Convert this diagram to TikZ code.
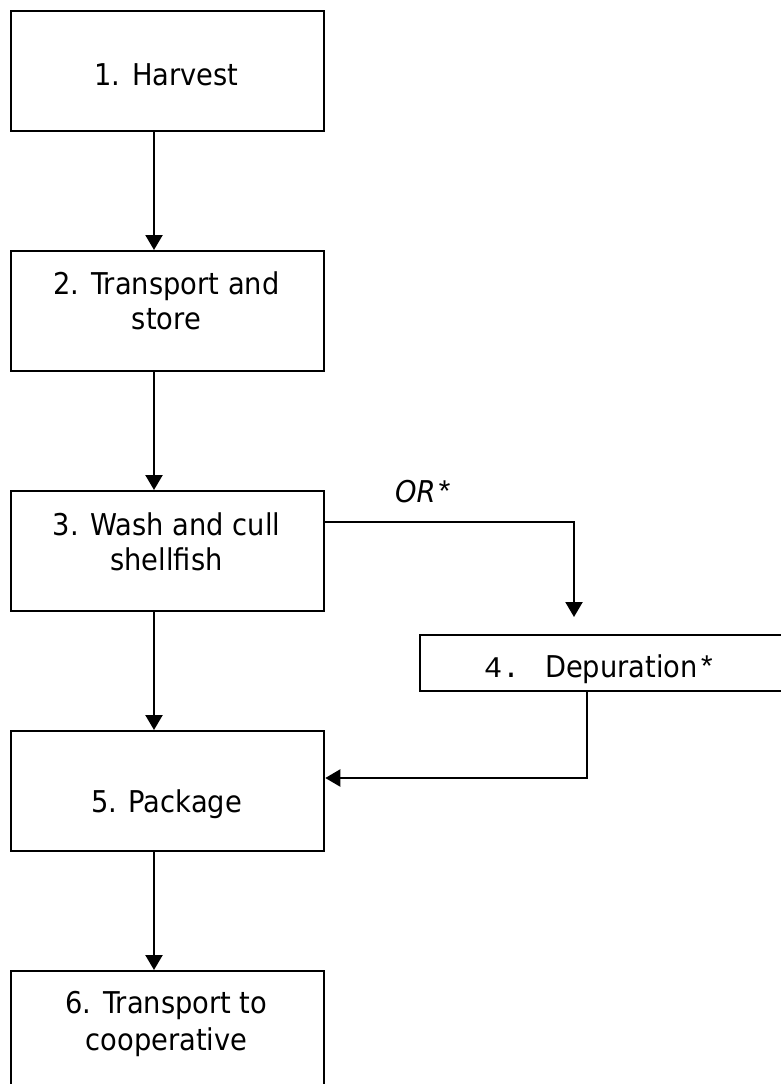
\documentclass[tikz,border=0pt]{standalone}
\usepackage{fontspec}
\setmainfont{DejaVu Sans}[FakeStretch=0.91]
\newfontfamily\monof{Liberation Mono}
\usetikzlibrary{arrows.meta}
\begin{document}
\begin{tikzpicture}[x=1pt,y=-1pt,
  box/.style={draw,line width=2.3pt,inner sep=0pt,anchor=north west},
  stdbox/.style={box,minimum width=313pt,minimum height=120pt},
  txt/.style={anchor=base,inner sep=0pt,font=\fontsize{30}{35}\selectfont},
  arr/.style={line width=2.2pt,-{Triangle[width=17pt,length=15pt]}},
]
\useasboundingbox (0,0) rectangle (780,1084);
\fill[white] (0,0) rectangle (780,1084);

% boxes
\node[stdbox] (b1) at (10,10) {};
\node[stdbox] (b2) at (10,250) {};
\node[stdbox] (b3) at (10,490) {};
\node[box,minimum width=365pt,minimum height=56pt] (b4) at (419,634) {};
\node[stdbox] (b5) at (10,730) {};
\node[stdbox] (b6) at (10,970) {};

% texts
\node[txt] (t1) at (166.5,85) {1. Harvest};
\node[txt] (t2a) at (166.5,294) {2. Transport and};
\node[txt] (t2b) at (166.5,329) {store};
\node[txt] (t3a) at (166.5,535) {3. Wash and cull};
\node[txt] (t3b) at (166.5,570) {shellfish};
\node[txt] (t4) at (600,677) {{\monof 4.}\hspace{25pt}Depuration{\monof *}};
\node[txt] (t5) at (166.5,812) {5. Package};
\node[txt] (t6a) at (166.5,1013) {6. Transport to};
\node[txt] (t6b) at (166.5,1050) {cooperative};
\node[txt,anchor=base west] (tor) at (395,502) {\itshape OR{\upshape\monof *}};

% connectors
\coordinate (ax) at (154,0);
\draw[arr] (b1.south -| ax) -- (b2.north -| ax);
\draw[arr] (b2.south -| ax) -- (b3.north -| ax);
\draw[arr] (b3.south -| ax) -- (b5.north -| ax);
\draw[arr] (b5.south -| ax) -- (b6.north -| ax);

\coordinate (c1) at (574,522);
\coordinate (c2) at (574,617);
\draw[arr] (b3.east |- c1) -- (c1) -- (c2);

\coordinate (c3) at (587,778);
\draw[arr] (b4.south -| c3) -- (c3) -- (b5.east |- c3);
\end{tikzpicture}
\end{document}
